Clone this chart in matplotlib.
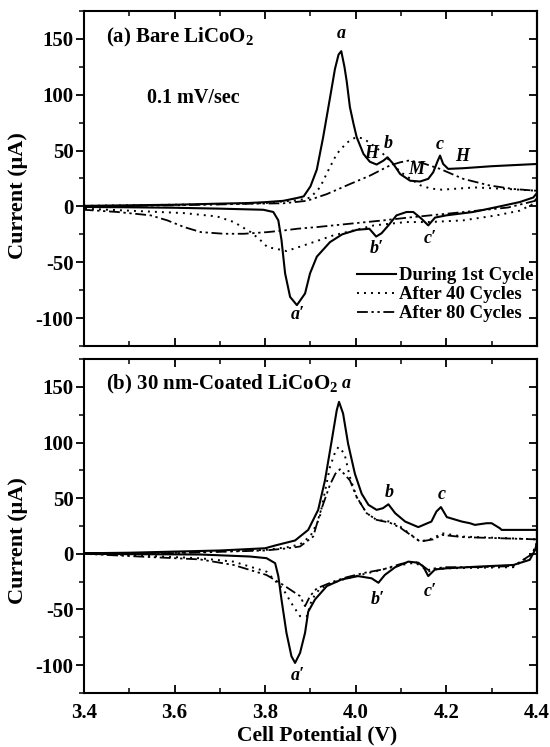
import matplotlib
matplotlib.use("Agg")
import matplotlib.pyplot as plt
import numpy as np
from matplotlib.ticker import MultipleLocator, FormatStrFormatter

plt.rcParams["font.family"] = ["Liberation Serif", "DejaVu Serif"]
plt.rcParams["font.weight"] = "bold"
plt.rcParams["axes.unicode_minus"] = False
plt.rcParams["mathtext.fontset"] = "custom"
plt.rcParams["mathtext.rm"] = "Liberation Serif:bold"
plt.rcParams["mathtext.bf"] = "Liberation Serif:bold"

# ---- (a) bare LiCoO2 ----
a1_v_ox = [3.40, 3.50, 3.60, 3.70, 3.76, 3.80, 3.84, 3.87, 3.885, 3.90, 3.914, 3.928,
           3.943, 3.954, 3.962, 3.968, 3.975, 3.980, 3.987, 3.995, 4.002, 4.017, 4.031,
           4.046, 4.061, 4.070, 4.083, 4.098, 4.120, 4.142, 4.160, 4.171, 4.180, 4.186,
           4.193, 4.204, 4.237, 4.300, 4.350, 4.400]
a1_i_ox = [0.5, 1.0, 1.5, 2.5, 3.0, 3.8, 5.0, 7.5, 9.0, 18, 33, 62,
           97, 123, 136, 139, 125, 112, 89, 74, 62, 47, 40,
           37.5, 41, 44, 38, 29, 23, 22.3, 24.7, 30.6, 40, 45.5,
           38, 33.6, 34.2, 36, 37, 38]
a1_v_red = [4.400, 4.392, 4.362, 4.311, 4.259, 4.200, 4.175, 4.160, 4.145, 4.127, 4.112,
            4.090, 4.072, 4.057, 4.045, 4.030, 4.002, 3.970, 3.943, 3.914, 3.899, 3.888,
            3.870, 3.855, 3.844, 3.836, 3.829, 3.818, 3.796, 3.70, 3.60, 3.50, 3.40]
a1_i_red = [12, 8, 3.9, -0.6, -5, -8, -10, -17, -11, -5, -5,
            -8, -17, -24, -27, -20, -21, -25, -32, -45, -60, -78,
            -88.4, -81, -60, -30, -12.5, -5, -3, -2, -1.2, -0.8, -0.5]

a40_v_ox = [3.40, 3.50, 3.60, 3.70, 3.80, 3.84, 3.87, 3.885, 3.90, 3.921, 3.939, 3.958,
            3.980, 4.000, 4.015, 4.031, 4.053, 4.075, 4.098, 4.116, 4.142, 4.165, 4.190,
            4.263, 4.336, 4.400]
a40_i_ox = [0.5, 1.0, 1.5, 2.0, 3.0, 4.5, 5.5, 6.5, 8, 17, 32, 47,
            57, 62, 61, 57, 50, 41, 31, 26, 19, 16, 15,
            17, 15.6, 14]
a40_v_red = [4.400, 4.392, 4.362, 4.311, 4.237, 4.164, 4.112, 4.075, 4.040, 4.000, 3.950,
             3.914, 3.877, 3.847, 3.825, 3.805, 3.789, 3.768, 3.731, 3.694, 3.621, 3.510,
             3.400]
a40_i_red = [8, 2.3, -3.8, -8, -12.5, -14, -14, -15.5, -17, -21, -26,
             -31, -36, -40, -38, -36.5, -30, -23, -14, -9, -6, -4,
             -2]

a80_v_ox = [3.40, 3.50, 3.60, 3.70, 3.766, 3.840, 3.892, 3.936, 3.987, 4.031, 4.075,
            4.098, 4.116, 4.142, 4.186, 4.237, 4.296, 4.348, 4.400]
a80_i_ox = [0, 0.5, 1.0, 1.8, 2.4, 2.8, 5, 11, 20, 27.5, 36.6,
            39.5, 41, 39.5, 33.6, 24.7, 18.7, 15.6, 14]
a80_v_red = [4.400, 4.396, 4.336, 4.263, 4.190, 4.116, 4.061, 3.987, 3.914, 3.871, 3.840,
             3.805, 3.753, 3.709, 3.658, 3.621, 3.584, 3.547, 3.474, 3.400]
a80_i_red = [10, 5, -1, -4, -7, -10, -12.5, -15.5, -18.5, -20, -21.6,
             -23, -24.5, -24.5, -23, -18.5, -12.5, -8, -5, -3]

# ---- (b) 30 nm-coated LiCoO2 ----
b1_v_ox = [3.40, 3.50, 3.60, 3.70, 3.80, 3.822, 3.866, 3.895, 3.917, 3.932, 3.947, 3.958,
           3.963, 3.972, 3.983, 3.998, 4.013, 4.028, 4.046, 4.060, 4.072, 4.087, 4.109,
           4.138, 4.167, 4.178, 4.188, 4.201, 4.234, 4.252, 4.263, 4.289, 4.300, 4.318,
           4.322, 4.400]
b1_i_ox = [0.5, 1, 2, 3, 5, 7.5, 12, 21.5, 39.5, 66, 102, 129,
           136.5, 126, 99, 72, 54, 44, 39.5, 41, 44.5, 36.5, 29,
           24, 29, 38, 42, 33, 29, 27.5, 26, 27.5, 27.5, 23,
           21.5, 21.5]
b1_v_red = [4.400, 4.396, 4.384, 4.348, 4.274, 4.200, 4.175, 4.160, 4.149, 4.138, 4.116,
            4.087, 4.064, 4.050, 4.035, 4.005, 3.969, 3.936, 3.910, 3.895, 3.888, 3.877,
            3.866, 3.858, 3.847, 3.836, 3.829, 3.822, 3.803, 3.766, 3.656, 3.500, 3.400]
b1_i_red = [10, 3.6, -5.4, -10, -11.4, -13, -14, -20, -11.4, -8, -7,
            -12, -19, -26, -22, -20, -23, -29, -41, -52, -71, -89,
            -98, -92, -71, -41, -20, -8.4, -3.9, -2.4, -0.6, -0.3, 0]

b40_v_ox = [3.40, 3.60, 3.80, 3.85, 3.877, 3.90, 3.92, 3.943, 3.955, 3.962, 3.975, 3.987,
            4.002, 4.024, 4.046, 4.075, 4.098, 4.142, 4.171, 4.190, 4.237, 4.400]
b40_i_ox = [0, 1, 3.5, 6, 8.5, 16, 32, 78, 92, 96, 90, 69,
            51, 36.5, 30.5, 29, 24.5, 11, 14, 18.5, 15.5, 13]
b40_v_red = [4.400, 4.390, 4.348, 4.274, 4.200, 4.175, 4.160, 4.145, 4.130, 4.100, 4.060,
             4.020, 3.980, 3.950, 3.921, 3.903, 3.892, 3.877, 3.862, 3.840, 3.803, 3.730,
             3.656, 3.500, 3.400]
b40_i_red = [10, 0, -12, -12.5, -13, -14, -16, -11, -8, -10, -14,
             -18, -22, -26, -31, -41, -56, -56, -47, -32, -16, -7,
             -4, -1, 0]

b80_v_ox = [3.40, 3.60, 3.80, 3.85, 3.877, 3.906, 3.921, 3.943, 3.955, 3.965, 3.987,
            4.002, 4.024, 4.046, 4.075, 4.098, 4.142, 4.171, 4.190, 4.237, 4.400]
b80_i_ox = [0, 0.6, 3, 5, 6.6, 15.5, 36.5, 62, 72, 76, 66,
            51, 36.5, 30.5, 28, 23.5, 11, 13, 17, 15, 13]
b80_v_red = [4.400, 4.390, 4.348, 4.274, 4.200, 4.175, 4.160, 4.145, 4.130, 4.100, 4.060,
             4.020, 3.980, 3.950, 3.914, 3.899, 3.888, 3.877, 3.840, 3.803, 3.730, 3.656,
             3.500, 3.400]
b80_i_red = [10, 0, -11, -12, -12, -13, -14.5, -10, -7, -9, -14,
             -17, -21, -25, -31, -38, -47, -38, -28, -19, -10, -5,
             -2, 0]

legend_labels = ["During 1st Cycle", "After 40 Cycles", "After 80 Cycles"]

styles = [
    dict(color="black", lw=1.5, ls="-"),
    dict(color="black", lw=1.4, ls=(0, (1, 2.6))),
    dict(color="black", lw=1.3, ls=(0, (6, 2, 1.3, 2, 1.3, 2))),
]

lbl = dict(fontsize=13, fontstyle="italic", fontweight="bold", ha="center", va="center")


def cv(ax, v_ox, i_ox, v_red, i_red, style, label=None):
    ax.plot(list(v_ox) + list(v_red), list(i_ox) + list(i_red), label=label, **style)


def style_axes(ax, show_xlabels, label_y):
    ax.set_xlim(3.4, 4.4)
    ax.set_ylim(-125, 175)
    ax.xaxis.set_major_locator(MultipleLocator(0.2))
    ax.xaxis.set_minor_locator(MultipleLocator(0.1))
    ax.xaxis.set_major_formatter(FormatStrFormatter("%.1f"))
    ax.yaxis.set_major_locator(MultipleLocator(50))
    ax.yaxis.set_minor_locator(MultipleLocator(25))
    ax.tick_params(axis="x", which="both", direction="in", top=True, bottom=True,
                   labelbottom=show_xlabels, labelsize=15, pad=7)
    ax.tick_params(axis="y", which="both", direction="out", left=True, right=False,
                   labelsize=15, pad=1.5)
    ax.tick_params(which="major", length=6, width=1.3)
    ax.tick_params(which="minor", length=3.5, width=1.1)
    for s in ax.spines.values():
        s.set_linewidth(1.5)
    sec = ax.secondary_yaxis("right")
    sec.yaxis.set_major_locator(MultipleLocator(50))
    sec.yaxis.set_minor_locator(MultipleLocator(25))
    sec.tick_params(which="both", direction="in", labelright=False)
    sec.tick_params(which="major", length=6, width=1.3)
    sec.tick_params(which="minor", length=3.5, width=1.1)
    sec.spines["right"].set_linewidth(1.5)
    ax.set_ylabel("Current (μA)", fontsize=16, fontweight="bold", va="center")
    ax.yaxis.set_label_coords(-0.146, label_y)


fig = plt.figure(figsize=(5.5, 7.47), dpi=100)
ax1 = fig.add_axes([0.1527, 0.5368, 0.8236, 0.4485])
ax2 = fig.add_axes([0.1527, 0.0723, 0.8236, 0.4471])

cv(ax1, a1_v_ox, a1_i_ox, a1_v_red, a1_i_red, styles[0], legend_labels[0])
cv(ax1, a40_v_ox, a40_i_ox, a40_v_red, a40_i_red, styles[1], legend_labels[1])
cv(ax1, a80_v_ox, a80_i_ox, a80_v_red, a80_i_red, styles[2], legend_labels[2])

cv(ax2, b1_v_ox, b1_i_ox, b1_v_red, b1_i_red, styles[0])
cv(ax2, b40_v_ox, b40_i_ox, b40_v_red, b40_i_red, styles[1])
cv(ax2, b80_v_ox, b80_i_ox, b80_v_red, b80_i_red, styles[2])

style_axes(ax1, False, 0.448)
style_axes(ax2, True, 0.455)
ax2.set_xlabel("Cell Potential (V)", fontsize=15.5, fontweight="bold", va="center")
ax2.xaxis.set_label_coords(0.514, -0.126)

ax1.text(3.448, 151, "(a) Bare LiCoO$_\\mathrm{2}$", fontsize=15, fontweight="bold",
         va="center")
ax1.text(3.54, 97, "0.1 mV/sec", fontsize=14.5, fontweight="bold", va="center")
ax2.text(3.448, 152, "(b) 30 nm-Coated LiCoO$_\\mathrm{2}$", fontsize=15,
         fontweight="bold", va="center")

for ax, pts in [
    (ax1, [("a", 3.967, 155), ("H", 4.035, 47), ("b", 4.072, 56), ("M", 4.134, 33),
           ("c", 4.186, 55), ("H", 4.234, 45), ("b′", 4.046, -38), ("c′", 4.164, -29),
           ("a′", 3.873, -97)]),
    (ax2, [("a", 3.979, 153), ("b", 4.075, 55), ("c", 4.190, 53), ("b′", 4.048, -41),
           ("c′", 4.164, -34), ("a′", 3.873, -109)]),
]:
    for t, x, y in pts:
        ax.text(x, y, t, **lbl)

ax1.legend(loc="lower right", bbox_to_anchor=(1.0, 0.06), frameon=False,
           handlelength=2.1, handletextpad=0.15, labelspacing=0.1,
           borderaxespad=0.0, borderpad=0.2,
           prop=dict(family="Liberation Serif", weight="bold", size=13.5))

fig.savefig("out.png", dpi=100)
